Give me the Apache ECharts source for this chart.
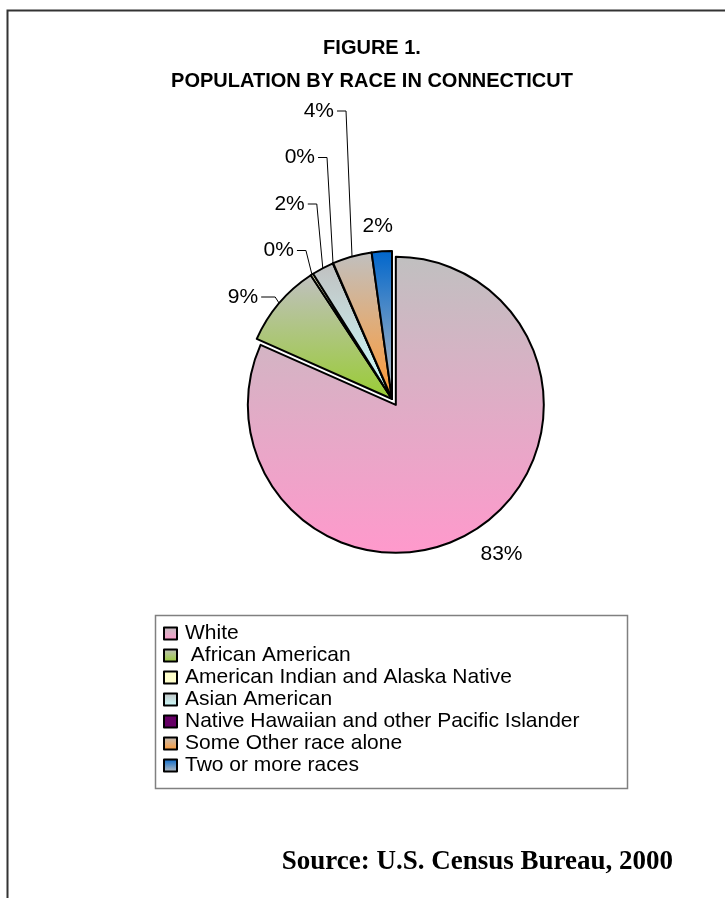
<!DOCTYPE html>
<html>
<head>
<meta charset="utf-8">
<script src="https://cdn.jsdelivr.net/npm/echarts@6/dist/echarts.min.js"></script>
<style>
html,body{margin:0;padding:0;background:#fff;}
#chart{width:725px;height:898px;}
</style>
</head>
<body>
<div id="chart"></div>
<script>
// ---- data ----
const categories = ['White', ' African American', 'American Indian and Alaska Native', 'Asian American',
  'Native Hawaiian and other Pacific Islander', 'Some Other race alone', 'Two or more races'];
// slice shares (percent)
const shares = [81.6, 9.1, 0.3, 2.4, 0.04, 4.3, 2.2];
// percentage labels as printed on the chart
const pctLabels = ['83%', '9%', '0%', '2%', '0%', '4%', '2%'];
const titleLines = ['FIGURE 1.', 'POPULATION BY RACE IN CONNECTICUT'];
const sourceText = 'Source: U.S. Census Bureau, 2000';

// ---- styles ----
const fills = [
  ['#c0c0c0', '#ff99cc'],
  ['#c0c0c0', '#99cc33'],
  ['#ffffcc', '#ffffcc'],
  ['#c0c0c0', '#ccffff'],
  ['#660066', '#660066'],
  ['#c0c0c0', '#ff9933'],
  ['#0066cc', '#c0c0c0']
];
const CX = 392, CY = 399, R = 148, OFFSET = 7;
const FONT = 'Arial, "Liberation Sans", sans-serif';
const HIDDEN = { color: 'rgba(0,0,0,0)', borderWidth: 0 };

function grad(c) {
  return new echarts.graphic.LinearGradient(0, 0, 0, 1, [
    { offset: 0, color: c[0] }, { offset: 1, color: c[1] }
  ]);
}

const total = shares.reduce((a, b) => a + b, 0);
function midAngle(i) {
  let s = 0;
  for (let j = 0; j < i; j++) s += shares[j];
  return (s + shares[i] / 2) / total * Math.PI * 2;
}
// exploded White slice: its centre is pushed out along its mid angle
const a0 = midAngle(0);
const WX = CX + OFFSET * Math.sin(a0), WY = CY - OFFSET * Math.cos(a0);

// series 1: only the exploded White slice (rest invisible)
const whiteData = [
  { name: categories[0], value: shares[0], itemStyle: { color: grad(fills[0]) }, labelLine: { show: false } },
  { name: '\u200b', value: total - shares[0], itemStyle: HIDDEN, label: { show: false }, labelLine: { show: false } }
];
// series 2: all other slices (White invisible)
const restData = categories.map((name, i) => ({
  name: name,
  value: shares[i],
  itemStyle: i === 0 ? HIDDEN : { color: grad(fills[i]) },
  label: { show: i !== 0 },
  labelLine: { show: i > 0 && i < 6 }
}));

const common = {
  type: 'pie',
  radius: R,
  startAngle: 90,
  clockwise: true,
  selectedMode: false,
  avoidLabelOverlap: false,
  silent: true,
  emphasis: { disabled: true },
  itemStyle: { borderColor: '#000', borderWidth: 2 },
  label: {
    show: true,
    position: 'outside',
    fontFamily: FONT,
    fontSize: 21,
    color: '#000'
  },
  labelLine: { show: true, length: 10, length2: 10, smooth: false, lineStyle: { color: '#000', width: 1 } }
};

const chart = echarts.init(document.getElementById('chart'), null, { renderer: 'canvas' });
chart.setOption({
  animation: false,
  backgroundColor: '#fff',
  title: {
    text: titleLines.join('\n'),
    left: 367,
    top: 27,
    textAlign: 'center',
    textStyle: { fontFamily: FONT, fontSize: 20, fontWeight: 'bold', color: '#000', lineHeight: 33 }
  },
  legend: {
    orient: 'vertical',
    left: 163,
    top: 623,
    padding: 0,
    itemGap: 1,
    itemWidth: 13,
    itemHeight: 12,
    icon: 'rect',
    selectedMode: false,
    textStyle: { fontFamily: FONT, fontSize: 21, color: '#000', padding: [0, 0, 0, 3] },
    data: categories
  },
  graphic: [
    { type: 'rect', shape: { x: 7.5, y: 10.5, width: 900, height: 1000 },
      style: { fill: null, stroke: '#333', lineWidth: 2 }, silent: true, z: -1 },
    { type: 'rect', shape: { x: 155.5, y: 615.5, width: 472, height: 173 },
      style: { fill: null, stroke: '#808080', lineWidth: 1.5 }, silent: true },
    { type: 'text', x: 673, y: 862,
      style: { text: sourceText, fill: '#000', font: 'bold 27px "Times New Roman", "Liberation Serif", serif',
        textAlign: 'right', textVerticalAlign: 'middle' }, silent: true }
  ],
  series: [
    Object.assign({}, common, {
      name: 'white',
      center: [WX, WY],
      label: Object.assign({}, common.label, { formatter: () => pctLabels[0] }),
      labelLayout: function (params) {
        if (params.dataIndex !== 0) return {};
        const ex = WX + R * Math.sin(a0);
        const ey = WY - R * Math.cos(a0);
        return { x: ex + 4, y: ey + 25, align: 'left', verticalAlign: 'middle' };
      },
      data: whiteData
    }),
    Object.assign({}, common, {
      name: 'rest',
      center: [CX, CY],
      label: Object.assign({}, common.label, { formatter: p => pctLabels[p.dataIndex] }),
      labelLayout: function (params) {
        const i = params.dataIndex;
        const a = midAngle(i);
        const ex = CX + R * Math.sin(a);
        const ey = CY - R * Math.cos(a);
        if (i === 0) return {};
        if (i === 6) {
          return { x: ex - 4, y: ey - 25, align: 'center', verticalAlign: 'middle' };
        }
        const ly = CY - 102 - 46.5 * (i - 1);
        const cx2 = ex - (i === 1 ? 4 : 6);
        const endX = cx2 - (i === 1 ? 14 : 9);
        return {
          x: endX - 3, y: ly, align: 'right', verticalAlign: 'middle',
          labelLinePoints: [[ex, ey], [cx2, ly], [endX, ly]]
        };
      },
      data: restData
    })
  ]
});
</script>
</body>
</html>
